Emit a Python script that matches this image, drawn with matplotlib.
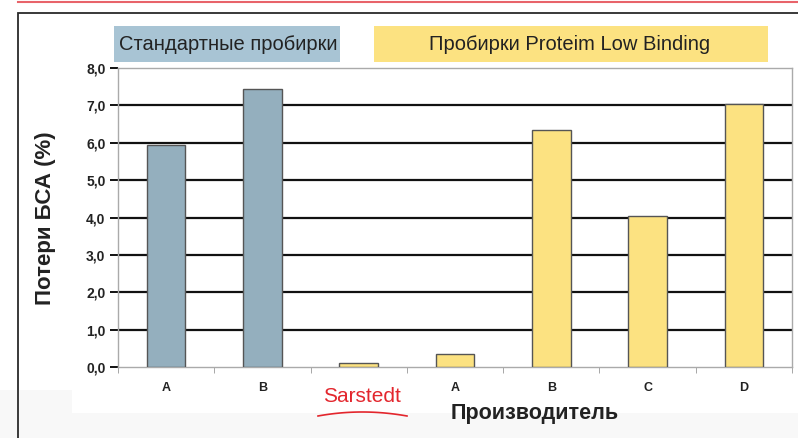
import matplotlib.pyplot as plt
import matplotlib.patches as patches
import numpy as np

plt.rcParams['font.family'] = ['Liberation Sans', 'DejaVu Sans']

# данные
labels = ['A', 'B', '', 'A', 'B', 'C', 'D']
values = [5.95, 7.45, 0.1, 0.35, 6.35, 4.05, 7.05]
colors = ['#94afbe', '#94afbe', '#fce281', '#fce281', '#fce281', '#fce281', '#fce281']
yticks = [0, 1, 2, 3, 4, 5, 6, 7, 8]
ytick_labels = ['0,0', '1,0', '2,0', '3,0', '4,0', '5,0', '6,0', '7,0', '8,0']

W, H = 798, 438
fig = plt.figure(figsize=(W / 100, H / 100), dpi=100)


def fx(px):
    return px / W


def fy(py):
    return 1 - py / H


# светло-серая полоса внизу
fig.patches.append(patches.Rectangle((0, 0), 1, fy(413), transform=fig.transFigure,
                                     facecolor='#f8f8f8', edgecolor='none', zorder=0))
fig.patches.append(patches.Rectangle((0, 0), fx(72), fy(390), transform=fig.transFigure,
                                     facecolor='#f8f8f8', edgecolor='none', zorder=0))
# рамка и красная линия
fig.patches.append(patches.Rectangle((fx(18), -0.1), 1.2, fy(13) + 0.1, transform=fig.transFigure,
                                     facecolor='none', edgecolor='#2a2a2a', lw=1.3, zorder=1))
fig.lines.append(plt.Line2D([fx(18), 1], [fy(2), fy(2)], transform=fig.transFigure,
                            color='#e8636a', lw=1.5))

ax = fig.add_axes([fx(118), fy(367), fx(792) - fx(118), fy(68) - fy(367)])
ax.patch.set_alpha(0)
x = np.arange(len(values))
ax.bar(x, values, width=0.4, color=colors, edgecolor='#555555', lw=1, zorder=3)

ax.set_xlim(-0.5, len(values) - 0.5)
ax.set_ylim(0, 8)
ax.set_yticks(yticks)
ax.set_yticklabels(ytick_labels, fontsize=10, fontweight='bold', color='#222222')
for yv in yticks[1:-1]:
    ax.axhline(yv, color='#111111', lw=1.6, zorder=2)
ax.tick_params(axis='y', direction='out', length=6, width=1.4, color='#111111', pad=3)

ax.set_xticks(x)
ax.set_xticklabels(labels, fontsize=9, fontweight='bold', color='#222222')
ax.set_xticks(np.arange(-0.5, len(values) + 0.5, 1), minor=True)
ax.tick_params(axis='x', which='major', length=0, pad=11)
ax.tick_params(axis='x', which='minor', direction='out', length=4, color='#999999')
for s in ax.spines.values():
    s.set_color('#aaaaaa')
    s.set_linewidth(1)

# плашки заголовков
fig.patches.append(patches.Rectangle((fx(114), fy(62)), fx(340) - fx(114), fy(26) - fy(62),
                                     transform=fig.transFigure, facecolor='#a8c4d4', edgecolor='none'))
fig.patches.append(patches.Rectangle((fx(374), fy(62)), fx(768) - fx(374), fy(26) - fy(62),
                                     transform=fig.transFigure, facecolor='#fce281', edgecolor='none'))
fig.text(fx(228), fy(45), 'Стандартные пробирки', fontsize=14.5, ha='center', va='center', color='#222222')
fig.text(fx(570), fy(45), 'Пробирки Proteim Low Binding', fontsize=14.5, ha='center', va='center', color='#222222')

fig.text(fx(46), fy(218), 'Потери БСА (%)', fontsize=16, fontweight='bold', rotation=90,
         ha='center', va='center', color='#222222')
fig.text(fx(535), fy(414), 'Производитель', fontsize=15.5, fontweight='bold', ha='center', va='center',
         color='#222222')

fig.text(fx(362), fy(396), 'Sarstedt', fontsize=15, ha='center', va='center', color='#e3262d')
t = np.linspace(0, 1, 50)
cx = (1 - t) ** 2 * 318 + 2 * t * (1 - t) * 362 + t ** 2 * 407
cy = (1 - t) ** 2 * 416 + 2 * t * (1 - t) * 408 + t ** 2 * 416
fig.lines.append(plt.Line2D(fx(cx), fy(cy), transform=fig.transFigure, color='#e3262d', lw=1.2))

fig.savefig('out.png', dpi=100)
